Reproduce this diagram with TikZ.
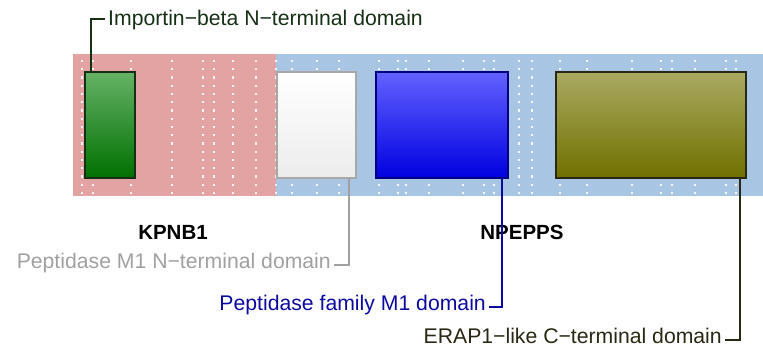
\documentclass[tikz,border=0pt]{standalone}
\usepackage{fontspec}
\setmainfont{Liberation Sans}
\definecolor{pinkband}{RGB}{228,163,163}
\definecolor{blueband}{RGB}{169,197,228}
\definecolor{gline}{RGB}{22,48,22}
\definecolor{greytxt}{RGB}{160,160,160}
\definecolor{bluetxt}{RGB}{10,10,160}
\definecolor{olivetxt}{RGB}{40,40,20}
\begin{document}
\begin{tikzpicture}[x=1pt,y=-1pt,
  lab/.style={font=\fontsize{21.2}{24}\selectfont, inner xsep=3pt, inner ysep=0pt},
  gene/.style={font=\fontsize{20.5}{24}\selectfont\bfseries, inner sep=0pt},
  dom/.style={draw, line width=1.6pt, minimum height=106pt, inner sep=0pt},
  conn/.style={line width=1.8pt}
]
\useasboundingbox (0,0) rectangle (763,358);
% bands
\fill[pinkband] (73,54) rectangle (276,196);
\fill[blueband] (276,54) rectangle (763,196);
% dot columns
\foreach \x in {82,93,131,172,203,214,233,256,276,292,317,339,379,398,406,429,463,484,494,519,532,560,587,632,661,672,695,726,736}{
  \foreach \k in {0,...,16}{
    \fill[white,opacity=0.9] ({\x-1.1},{59.9+8.25*\k}) rectangle ++(2.2,2.2);
  }
}
% domains
\node[dom, draw=gline, top color={rgb,255:red,102;green,178;blue,102}, bottom color={rgb,255:red,0;green,112;blue,0}, minimum width=50pt] (d1) at (110,125) {};
\node[dom, draw={rgb,255:red,168;green,168;blue,168}, top color=white, bottom color={rgb,255:red,236;green,236;blue,236}, minimum width=79pt] (d2) at (316.5,125) {};
\node[dom, draw={rgb,255:red,0;green,0;blue,128}, top color={rgb,255:red,98;green,98;blue,255}, bottom color={rgb,255:red,0;green,0;blue,224}, minimum width=132pt] (d3) at (442,125) {};
\node[dom, draw=olivetxt, top color={rgb,255:red,170;green,170;blue,98}, bottom color={rgb,255:red,112;green,112;blue,0}, minimum width=190pt] (d4) at (651,125) {};
% gene names
\node[gene, anchor=base] (g1) at (173,240) {KPNB1};
\node[gene, anchor=base] (g2) at (522,240) {NPEPPS};
% domain labels
\node[lab, text=gline, anchor=base west] (l1) at (105,26) {Importin−beta N−terminal domain};
\node[lab, text=greytxt, anchor=base east] (l2) at (334,268) {Peptidase M1 N−terminal domain};
\node[lab, text=bluetxt, anchor=base east] (l3) at (489,310) {Peptidase family M1 domain};
\node[lab, text=olivetxt, anchor=base east] (l4) at (725,343) {ERAP1−like C−terminal domain};
% connectors
\draw[conn, gline] ([xshift=7pt]d1.north west) |- ([yshift=4pt]l1.mid west);
\draw[conn, greytxt] ([xshift=-8pt]d2.south east) |- (l2.mid east);
\draw[conn, bluetxt] ([xshift=-7pt]d3.south east) |- (l3.mid east);
\draw[conn, olivetxt] ([xshift=-7pt]d4.south east) |- (l4.mid east);
\end{tikzpicture}
\end{document}
